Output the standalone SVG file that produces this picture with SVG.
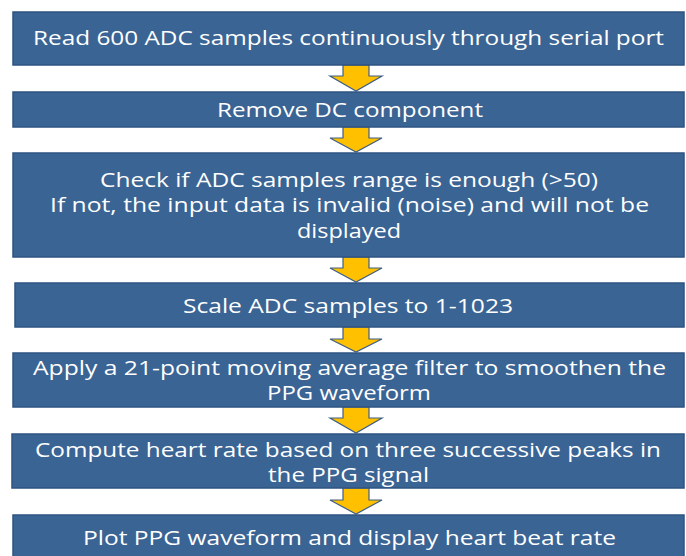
<svg xmlns="http://www.w3.org/2000/svg" width="686" height="556" viewBox="0 0 686 556">
<defs>
<style>
.box{fill:#3A6494;stroke:#2E5381;stroke-width:1.5}
.arr{fill:#FFC000;stroke:#3F5E85;stroke-width:1.2;stroke-linejoin:miter}
text{font-family:"Open Sans","Noto Sans","Liberation Sans",sans-serif;font-size:19.5px;fill:#FFFFFF;text-anchor:middle}
</style>
</defs>
<g id="connectors">
<path class="arr" d="M343,65 V76 H330 L356,91 L382,76 H369 V65 Z"/>
<path class="arr" d="M343,127 V138 H330 L356,152 L382,138 H369 V127 Z"/>
<path class="arr" d="M343,257 V268 H330 L356,282 L382,268 H369 V257 Z"/>
<path class="arr" d="M343,327 V339 H330 L356,352 L382,339 H369 V327 Z"/>
<path class="arr" d="M343,407 V418 H330 L356,433 L382,418 H369 V407 Z"/>
<path class="arr" d="M343,488 V500 H330 L356,514 L382,500 H369 V488 Z"/>
</g>
<g id="n1">
<rect class="box" x="13" y="12" width="671" height="53"/>
<text x="348.5" y="45" textLength="631" lengthAdjust="spacingAndGlyphs">Read 600 ADC samples continuously through serial port</text>
</g>
<g id="n2">
<rect class="box" x="13" y="92" width="671" height="35"/>
<text x="350" y="117" textLength="266" lengthAdjust="spacingAndGlyphs">Remove DC component</text>
</g>
<g id="n3">
<rect class="box" x="13" y="153" width="671" height="104"/>
<text x="349" y="187" textLength="498" lengthAdjust="spacingAndGlyphs">Check if ADC samples range is enough (&gt;50)</text>
<text x="349.5" y="212" textLength="599" lengthAdjust="spacingAndGlyphs">If not, the input data is invalid (noise) and will not be</text>
<text x="349" y="238" textLength="104" lengthAdjust="spacingAndGlyphs">displayed</text>
</g>
<g id="n4">
<rect class="box" x="15" y="283" width="669" height="44"/>
<text x="348" y="313" textLength="330" lengthAdjust="spacingAndGlyphs">Scale ADC samples to 1-1023</text>
</g>
<g id="n5">
<rect class="box" x="13" y="353" width="671" height="54"/>
<text x="349.5" y="375" textLength="633" lengthAdjust="spacingAndGlyphs">Apply a 21-point moving average filter to smoothen the</text>
<text x="349" y="400" textLength="164" lengthAdjust="spacingAndGlyphs">PPG waveform</text>
</g>
<g id="n6">
<rect class="box" x="12" y="434" width="672" height="54"/>
<text x="348" y="457" textLength="626" lengthAdjust="spacingAndGlyphs">Compute heart rate based on three successive peaks in</text>
<text x="348.5" y="482" textLength="161" lengthAdjust="spacingAndGlyphs">the PPG signal</text>
</g>
<g id="n7">
<rect class="box" x="13" y="515" width="671" height="60"/>
<text x="349.5" y="545" textLength="533" lengthAdjust="spacingAndGlyphs">Plot PPG waveform and display heart beat rate</text>
</g>
</svg>
